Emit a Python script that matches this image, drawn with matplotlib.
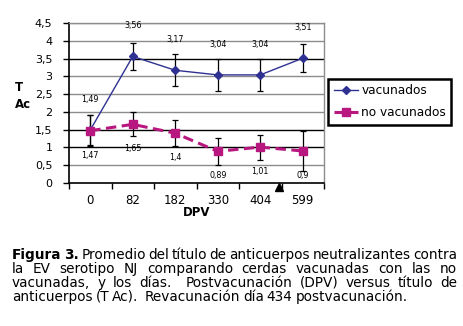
import numpy as np
import matplotlib
matplotlib.use('Agg')
import matplotlib.pyplot as plt

# dane
dpv = ['0', '82', '182', '330', '404', '599']
vacunados = [1.49, 3.56, 3.17, 3.04, 3.04, 3.51]
vacunados_err = [0.43, 0.37, 0.45, 0.44, 0.46, 0.39]
no_vacunados = [1.47, 1.65, 1.40, 0.89, 1.01, 0.90]
no_vacunados_err = [0.43, 0.34, 0.37, 0.38, 0.35, 0.55]
y_ticks = [0, 0.5, 1, 1.5, 2, 2.5, 3, 3.5, 4, 4.5]
revac_pos = 4.43  # pozycja trojkata (revacunacion dia 434)

caption = [
    [('Figura 3.', 'bold'), ('Promedio del título de anticuerpos neutralizantes contra', 'normal')],
    [('la EV serotipo NJ comparando cerdas vacunadas con las no', 'normal')],
    [('vacunadas, y los días.  Postvacunación (DPV) versus título de', 'normal')],
    [('anticuerpos (T Ac).  Revacunación día 434 postvacunación.', 'normal')],
]

AZUL = '#2E3192'
MAGENTA = '#B8177F'
W, H = 463, 326

plt.rcParams['font.family'] = ['DejaVu Sans']
fig = plt.figure(figsize=(W / 100, H / 100), dpi=100)
ax = fig.add_axes([69 / W, (H - 183) / H, 255 / W, 160 / H])

x = np.arange(len(dpv))

# linie siatki (niektore ciemniejsze jak na oryginale)
for yv in y_ticks[1:]:
    kol = 'black' if yv in (3.5, 1.5, 1.0) else '#8c8c8c'
    ax.axhline(yv, color=kol, lw=1.0, zorder=1)

ax.errorbar(x, vacunados, yerr=vacunados_err, fmt='none', ecolor='black',
            elinewidth=0.9, capsize=2.5, capthick=0.9, zorder=2)
ax.errorbar(x, no_vacunados, yerr=no_vacunados_err, fmt='none', ecolor='black',
            elinewidth=0.9, capsize=2.5, capthick=0.9, zorder=2)
l1, = ax.plot(x, vacunados, color=AZUL, lw=1.0, marker='D', ms=4, zorder=3,
              label='vacunados')
l2, = ax.plot(x, no_vacunados, color=MAGENTA, lw=2.2, ls=(0, (3.4, 1.8)),
              marker='s', ms=5.5, zorder=3, label='no vacunados')

for xi, v in zip(x, vacunados):
    ax.annotate(f'{v:g}'.replace('.', ','), (xi, v), xytext=(0, 22),
                textcoords='offset points', ha='center', va='center', fontsize=5.8)
for xi, v in zip(x, no_vacunados):
    ax.annotate(f'{v:g}'.replace('.', ','), (xi, v), xytext=(0, -17.5),
                textcoords='offset points', ha='center', va='center', fontsize=5.8)

# trojkat - revacunacion
ax.plot([revac_pos], [-0.12], marker='^', color='black', ms=5.5, clip_on=False, zorder=5)

ax.set_xlim(-0.5, len(dpv) - 0.5)
ax.set_ylim(0, 4.5)
ax.set_xticks(x)
ax.set_xticklabels(dpv, fontsize=8.5)
ax.set_xticks(np.arange(-0.5, len(dpv)), minor=True)
ax.tick_params(axis='x', which='major', length=0, pad=8)
ax.tick_params(axis='x', which='minor', length=4, width=1, direction='out')
ax.set_yticks(y_ticks)
ax.set_yticklabels([f'{v:g}'.replace('.', ',') for v in y_ticks], fontsize=8)
ax.tick_params(axis='y', length=4, width=1, pad=8)
ax.set_xlabel('DPV', fontsize=8.5, fontweight='bold', labelpad=-1)

for s in ('left', 'bottom'):
    ax.spines[s].set_color('black')
    ax.spines[s].set_linewidth(1.2)
for s in ('top', 'right'):
    ax.spines[s].set_color('#8c8c8c')
    ax.spines[s].set_linewidth(1.0)

fig.text(15 / W, 1 - 96 / H, 'T\nAc', fontsize=8.5, fontweight='bold',
         ha='left', va='center', linespacing=1.4)

leg = ax.legend(handles=[l1, l2], loc='upper left', bbox_to_anchor=(1.016, 0.65),
                borderaxespad=0, fontsize=8.7, handlelength=2.0, labelspacing=0.75,
                borderpad=0.45, handletextpad=0.3, fancybox=False, framealpha=1)
leg.get_frame().set_edgecolor('black')
leg.get_frame().set_linewidth(1.8)

# podpis - tekst wyjustowany
r = fig.canvas.get_renderer()
x0, x1 = 12, 457
FS = 9.8
baselines = [259, 273, 287, 301]
for i, (linia, yb) in enumerate(zip(caption, baselines)):
    slowa = []  # (tekst, waga, ile odstepow przed)
    for j, (txt, wg) in enumerate(linia):
        przed = 1 if j > 0 else 0
        for tok in txt.split(' '):
            if tok == '':
                przed += 1
                continue
            slowa.append((tok, wg, przed))
            przed = 1
    teksty, szer = [], []
    for tok, wg, _ in slowa:
        t = fig.text(0, 1 - yb / H, tok, fontsize=FS, fontweight=wg, va='baseline', ha='left')
        teksty.append(t)
        szer.append(t.get_window_extent(r).width)
    n_odst = sum(s[2] for s in slowa)
    if i < len(caption) - 1:
        gap = (x1 - x0 - sum(szer)) / n_odst
    else:
        gap = FS * 0.3
    xp = x0
    for t, w, (_, _, przed) in zip(teksty, szer, slowa):
        xp += przed * gap
        t.set_x(xp / W)
        xp += w

fig.savefig('out.png', dpi=100)
